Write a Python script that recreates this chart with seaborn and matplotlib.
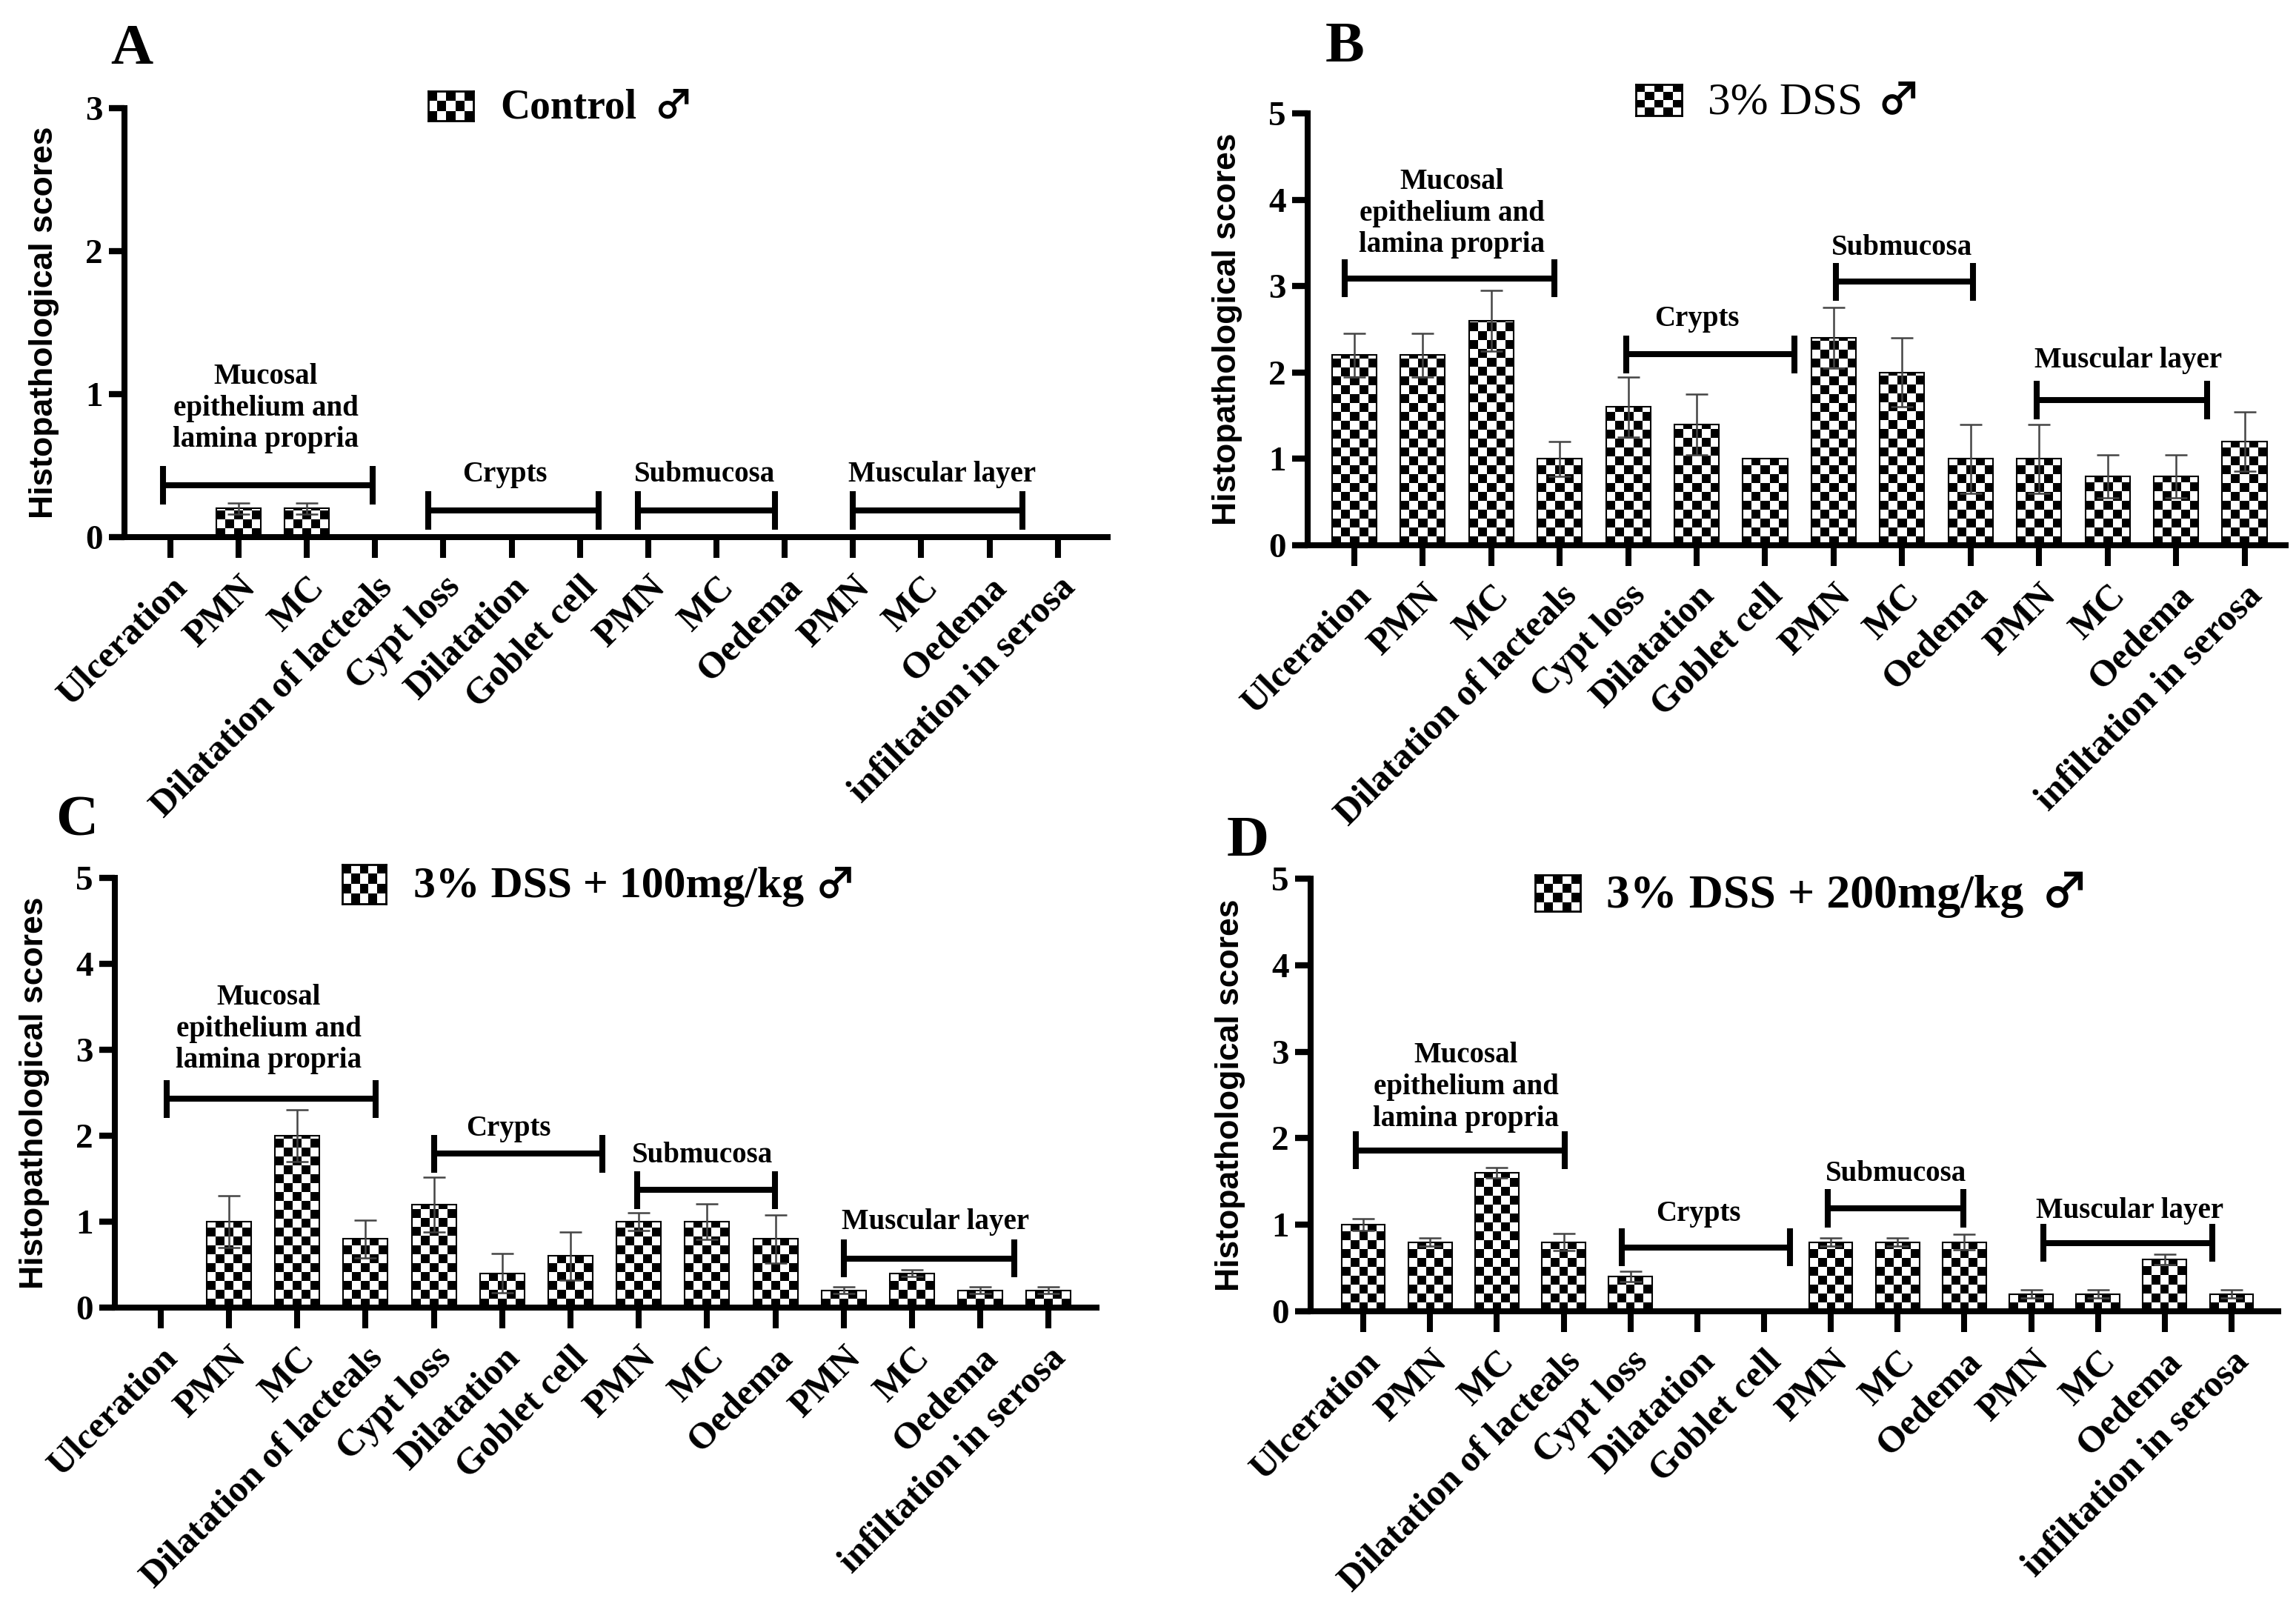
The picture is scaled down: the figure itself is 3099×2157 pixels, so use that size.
import math
import numpy as np
import pandas as pd
import matplotlib
matplotlib.use("Agg")
import matplotlib.pyplot as plt
import seaborn as sns

sns.set_theme(style="white")
plt.rcParams['font.family'] = ['Liberation Serif', 'DejaVu Sans']
plt.rcParams['text.color'] = 'black'
plt.rcParams['axes.labelcolor'] = 'black'
plt.rcParams['xtick.color'] = 'black'
plt.rcParams['ytick.color'] = 'black'

# ---------------- data ----------------
categories = ["Ulceration", "PMN", "MC", "Dilatation of lacteals",
              "Cypt loss", "Dilatation", "Goblet cell",
              "PMN", "MC", "Oedema",
              "PMN", "MC", "Oedema", "infiltation in serosa"]
group_names = ["Mucosal\nepithelium and\nlamina propria", "Crypts",
               "Submucosa", "Muscular layer"]

control_mean = [0, 0.2, 0.2, 0, 0, 0, 0, 0, 0, 0, 0, 0, 0, 0]
control_sd = [0, 0.04, 0.04, 0, 0, 0, 0, 0, 0, 0, 0, 0, 0, 0]
dss_mean = [2.2, 2.2, 2.6, 1.0, 1.6, 1.4, 1.0, 2.4, 2.0, 1.0, 1.0, 0.8, 0.8, 1.2]
dss_sd = [0.25, 0.25, 0.35, 0.2, 0.35, 0.35, 0, 0.35, 0.4, 0.4, 0.4, 0.25, 0.25, 0.34]
dss100_mean = [0, 1.0, 2.0, 0.8, 1.2, 0.4, 0.6, 1.0, 1.0, 0.8, 0.2, 0.4, 0.2, 0.2]
dss100_sd = [0, 0.3, 0.3, 0.22, 0.32, 0.23, 0.28, 0.1, 0.21, 0.28, 0.04, 0.04, 0.04, 0.04]
dss200_mean = [1.0, 0.8, 1.6, 0.8, 0.4, 0, 0, 0.8, 0.8, 0.8, 0.2, 0.2, 0.6, 0.2]
dss200_sd = [0.07, 0.05, 0.06, 0.1, 0.06, 0, 0, 0.05, 0.05, 0.09, 0.05, 0.05, 0.06, 0.05]

titles = ["Control", "3% DSS", "3% DSS + 100mg/kg", "3% DSS + 200mg/kg"]
male_sign = "♂"
panel_letters = ["A", "B", "C", "D"]
y_label = "Histopathological scores"

# ---------------- layout ----------------
W, H = 3099, 2157
fig = plt.figure(figsize=(W / 100, H / 100), dpi=100)
fig.patch.set_facecolor("white")

layout = [
    dict(mean=control_mean, sd=control_sd, ymax=3,
         rect=(168, 146, 1495, 725), xlim=(-0.67, 13.73), cap=0.135,
         brackets=[(-0.11, 2.97, 0.364, 1.40, 0.90), (3.78, 6.28, 0.186, 4.9, 0.44),
                   (6.85, 8.86, 0.186, 7.83, 0.44), (10.0, 12.48, 0.186, 11.3, 0.44)],
         letter=(178, 86), box=(578, 123, 61, 40, 5, 3), text=(675, 160),
         tfs=40, tw="bold", male=(882, 160), mfs=38),
    dict(mean=dss_mean, sd=dss_sd, ymax=5,
         rect=(1765, 153, 3085, 736), xlim=(-0.68, 13.6), cap=0.22,
         brackets=[(-0.14, 2.92, 3.09, 1.43, 3.84), (3.97, 6.43, 2.21, 5.0, 2.62),
                   (7.03, 9.03, 3.05, 8.0, 3.44), (9.97, 12.45, 1.68, 11.3, 2.14)],
         letter=(1815, 83), box=(2208, 114, 62, 42, 5, 4), text=(2305, 153),
         tfs=44, tw="normal", male=(2533, 153), mfs=42),
    dict(mean=dss100_mean, sd=dss100_sd, ymax=5,
         rect=(155, 1185, 1480, 1765), xlim=(-0.67, 13.7), cap=0.22,
         brackets=[(0.09, 3.15, 2.43, 1.58, 3.24), (4.0, 6.47, 1.79, 5.09, 2.08),
                   (6.98, 8.99, 1.37, 7.93, 1.77), (10.0, 12.5, 0.57, 11.34, 1.0)],
         letter=(104, 1127), box=(462, 1167, 59, 53, 5, 4), text=(558, 1211),
         tfs=43, tw="bold", male=(1100, 1211), mfs=40),
    dict(mean=dss200_mean, sd=dss200_sd, ymax=5,
         rect=(1769, 1186, 3075, 1770), xlim=(-0.79, 13.7), cap=0.22,
         brackets=[(-0.11, 3.02, 1.86, 1.54, 2.59), (3.87, 6.39, 0.74, 5.02, 1.13),
                   (6.95, 8.99, 1.19, 7.97, 1.59), (10.18, 12.71, 0.79, 11.48, 1.16)],
         letter=(1684, 1155), box=(2072, 1181, 61, 49, 5, 4), text=(2168, 1225),
         tfs=46, tw="bold", male=(2755, 1225), mfs=46),
]

SQ = 12.0  # checker square size in pixels
LW = 5.8


def checker(ny, nx, phase=0):
    yy, xx = np.mgrid[0:ny, 0:nx]
    return ((yy + xx + phase) % 2).astype(float)


for i, P in enumerate(layout):
    l, t, r, b = P["rect"]
    ax = fig.add_axes([l / W, 1 - b / H, (r - l) / W, (b - t) / H])
    axw, axh = r - l, b - t
    xlim = P["xlim"]
    ylim = (0, P["ymax"])
    pxx = axw / (xlim[1] - xlim[0])
    pxy = axh / (ylim[1] - ylim[0])

    df = pd.DataFrame({"item": [f"{k:02d}" for k in range(len(categories))],
                       "score": P["mean"]})
    sns.barplot(data=df, x="item", y="score", ax=ax, color="white",
                saturation=1, edgecolor="black", linewidth=1.5, width=0.65,
                errorbar=None)

    # checkerboard fill for each bar
    for patch in list(ax.patches):
        hgt = patch.get_height()
        if hgt <= 0:
            continue
        x0, w = patch.get_x(), patch.get_width()
        nx = max(1, int(round(w * pxx / SQ)))
        sy = SQ / pxy
        ny = int(math.ceil(hgt / sy))
        img = checker(ny, nx)
        im = ax.imshow(img, cmap="gray", vmin=0, vmax=1, origin="lower",
                       extent=(x0, x0 + w, 0, ny * sy), aspect="auto",
                       interpolation="nearest", zorder=2)
        im.set_clip_path(patch)
        patch.set_facecolor("none")
        patch.set_zorder(2.5)

    mean = np.array(P["mean"], dtype=float)
    sd = np.array(P["sd"], dtype=float)
    xs = np.arange(len(mean))
    m = sd > 0
    ax.errorbar(xs[m], mean[m], yerr=sd[m], fmt="none", ecolor="#444444",
                elinewidth=1.8, capsize=11, capthick=1.8, zorder=3)

    # group brackets
    cap = P["cap"]
    for (bx0, bx1, by, tx, ty), name in zip(P["brackets"], group_names):
        ax.plot([bx0, bx1], [by, by], color="black", lw=LW,
                solid_capstyle="butt", clip_on=False, zorder=4)
        for bx in (bx0, bx1):
            ax.plot([bx, bx], [by - cap, by + cap], color="black", lw=LW,
                    solid_capstyle="butt", clip_on=False, zorder=4)
        ax.text(tx, ty, name, ha="center", va="center", multialignment="center",
                fontsize=28, fontweight="bold", linespacing=1.2, zorder=4)

    ax.set_xlim(*xlim)
    ax.set_ylim(*ylim)
    ax.set_facecolor("white")
    for s in ("top", "right"):
        ax.spines[s].set_visible(False)
    for s in ("left", "bottom"):
        ax.spines[s].set_linewidth(LW)
        ax.spines[s].set_color("black")
        ax.spines[s].set_zorder(6)

    ax.set_xticks(xs)
    ax.set_xticklabels(categories, rotation=45, ha="right",
                       rotation_mode="anchor", fontsize=36, fontweight="bold")
    ax.set_yticks(range(P["ymax"] + 1))
    ax.set_yticklabels([str(v) for v in range(P["ymax"] + 1)],
                       fontsize=34, fontweight="bold")
    ax.tick_params(axis="x", length=20, width=LW, pad=12, direction="out",
                   bottom=True)
    ax.tick_params(axis="y", length=15, width=6, pad=6, direction="out",
                   left=True)
    ax.set_xlabel("")
    ax.set_ylabel(y_label, fontsize=32, fontweight="bold",
                  fontfamily=["Liberation Sans", "DejaVu Sans"])
    ax.yaxis.set_label_coords(-88 / axw, 0.5)
    ax.grid(False)

    # legend-like header: checker box + text
    bx, byt, bw, bh, bnx, bny = P["box"]
    lax = fig.add_axes([bx / W, 1 - (byt + bh) / H, bw / W, bh / H])
    lax.imshow(checker(bny, bnx), cmap="gray", vmin=0, vmax=1,
               aspect="auto", interpolation="nearest")
    lax.set_xticks([])
    lax.set_yticks([])
    for s in lax.spines.values():
        s.set_linewidth(2)
        s.set_color("black")
    tx, tb = P["text"]
    fig.text(tx / W, 1 - tb / H, titles[i], fontsize=P["tfs"],
             fontweight=P["tw"], ha="left", va="baseline")
    mx, mb = P["male"]
    fig.text(mx / W, 1 - mb / H, male_sign, fontsize=P["mfs"],
             fontweight="bold", ha="left", va="baseline",
             fontfamily=["Noto Sans CJK JP", "DejaVu Sans"])

    lx, lb = P["letter"]
    fig.text(lx / W, 1 - lb / H, panel_letters[i], fontsize=57,
             fontweight="bold", ha="center", va="baseline")

fig.savefig("out.png", dpi=100, facecolor="white")
